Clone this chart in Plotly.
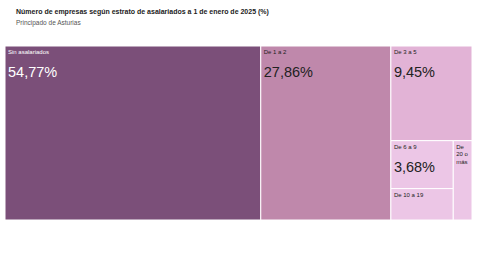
import plotly.graph_objects as go

labels = ["Sin asalariados", "De 1 a 2", "De 3 a 5", "De 6 a 9", "De 10 a 19", "De 20 o más"]
values = [54.77, 27.86, 9.45, 3.68, 2.41, 1.83]
show_value = [True, True, True, True, False, False]
colors = ["#7b4f79", "#bf88ab", "#e2b3d6", "#ecc6e6", "#ecc6e6", "#ecc6e6"]
font_colors = ["#ffffff", "#222222", "#222222", "#222222", "#222222", "#222222"]

def fmt(v):
    return f"{v:.2f}".replace(".", ",") + "%"

texts = []
for lab, v, s in zip(labels, values, show_value):
    lab_html = lab.replace("De 20 o más", "De<br>20 o<br>más")
    if s:
        texts.append(f"{lab_html}<br>&nbsp;<br>&nbsp;<br><span style='font-size:14.5px'>{fmt(v)}</span>")
    else:
        texts.append(lab_html)

fig = go.Figure(go.Treemap(
    labels=labels,
    parents=[""] * len(labels),
    values=values,
    text=texts,
    texttemplate="%{text}",
    textposition="top left",
    marker=dict(colors=colors, line=dict(color="#ffffff", width=1), pad=dict(t=0, l=0, r=0, b=0)),
    textfont=dict(family="Liberation Sans, Arial, sans-serif", size=6, color=font_colors),
    tiling=dict(packing="squarify", pad=0),
    pathbar=dict(visible=False),
    sort=True,
    hoverinfo="label+value",
    domain=dict(x=[5/480, 472/480], y=[1 - 220/270, 1 - 46/270]),
))

fig.update_layout(
    width=480, height=270,
    margin=dict(l=0, r=0, t=0, b=0),
    paper_bgcolor="#ffffff",
    font=dict(family="Liberation Sans, Arial, sans-serif"),
    annotations=[
        dict(text="<b>Número de empresas según estrato de asalariados a 1 de enero de 2025 (%)</b>",
             x=14/480, y=1 - 12/270, xref="paper", yref="paper", xanchor="left", yanchor="middle",
             showarrow=False, font=dict(size=7, color="#222222")),
        dict(text="Principado de Asturias",
             x=14/480, y=1 - 23/270, xref="paper", yref="paper", xanchor="left", yanchor="middle",
             showarrow=False, font=dict(size=6.5, color="#555555")),
    ],
)

fig.write_html("out.html")
